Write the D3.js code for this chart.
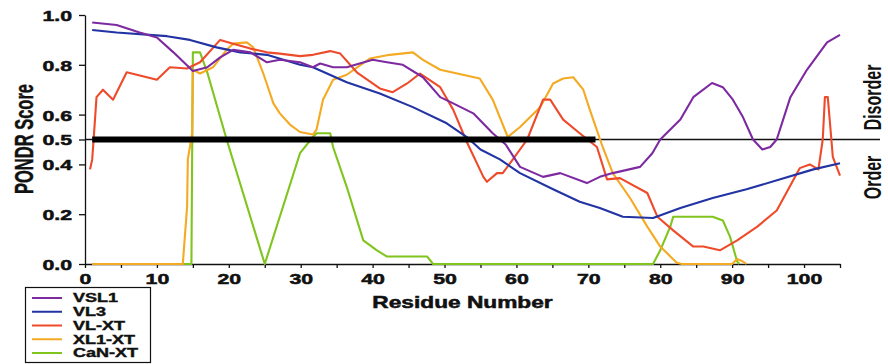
<!DOCTYPE html>
<html><head><meta charset="utf-8">
<script src="https://cdn.jsdelivr.net/npm/d3@7"></script>
<style>body{margin:0;background:#fff}svg{display:block}text{font-family:"Liberation Sans",Arial,sans-serif;font-weight:bold;fill:#111}</style>
</head><body>
<svg id="c" width="888" height="364"></svg>
<script>
const seriesNames = ["VSL1","VL3","VL-XT","XL1-XT","CaN-XT"];
const seriesColors = ["#7d2aa0","#2233a3","#ee4b2b","#f4aa22","#80c41e"];
const vsl1 = [[1,0.97],[4.4,0.96],[7.6,0.93],[10,0.91],[12.3,0.85],[15,0.775],[17,0.79],[18.8,0.83],[20.6,0.86],[23,0.85],[25.3,0.81],[27.1,0.82],[29.9,0.81],[31.7,0.79],[32.7,0.805],[34.5,0.79],[36.4,0.79],[40,0.82],[42,0.81],[44.2,0.80],[47,0.75],[49.4,0.67],[51.2,0.645],[54,0.605],[56.7,0.525],[58.5,0.48],[60.5,0.39],[63.7,0.35],[66.1,0.365],[69.8,0.325],[71.6,0.35],[73.4,0.365],[77.2,0.39],[78.9,0.445],[80,0.50],[81.4,0.54],[82.8,0.58],[84.6,0.67],[87.2,0.727],[88.7,0.71],[90.1,0.66],[91.5,0.59],[92.9,0.50],[94.2,0.46],[95.3,0.47],[96.2,0.50],[98.1,0.67],[100.4,0.78],[103.2,0.89],[105,0.92]];
const vl3 = [[1,0.94],[4.4,0.93],[11.4,0.915],[14.6,0.90],[18.3,0.87],[21.6,0.85],[25.3,0.84],[29.9,0.80],[31.7,0.79],[36.4,0.73],[41,0.685],[45.6,0.63],[50.3,0.565],[53.1,0.51],[55,0.46],[57.7,0.42],[60.5,0.365],[65.1,0.30],[68.8,0.25],[71.6,0.225],[74.8,0.19],[79,0.185],[82.8,0.225],[87.3,0.265],[92,0.30],[96.7,0.34],[101.3,0.38],[105,0.405]];
const vlxt = [[0.7,0.38],[1,0.42],[1.2,0.5],[1.6,0.67],[2.5,0.70],[3.9,0.66],[5.8,0.77],[7.2,0.76],[10,0.74],[11.8,0.79],[14.2,0.785],[16,0.81],[18.8,0.90],[20.6,0.885],[23,0.865],[25.3,0.85],[27.1,0.845],[29.9,0.835],[31.7,0.84],[34.1,0.855],[35.5,0.845],[37.8,0.77],[41,0.705],[42.8,0.69],[44.8,0.725],[46.6,0.765],[49.4,0.71],[51.2,0.62],[53.1,0.49],[55.4,0.35],[55.9,0.33],[57.3,0.365],[58.1,0.365],[59.5,0.42],[61.5,0.50],[63.7,0.66],[64.7,0.66],[66.5,0.58],[68.8,0.525],[71.2,0.47],[72.6,0.34],[74.4,0.345],[78.2,0.285],[79.6,0.19],[81.8,0.135],[84.6,0.07],[86,0.07],[88.3,0.055],[90.7,0.095],[93.5,0.15],[96.2,0.215],[98,0.31],[99.4,0.385],[100.8,0.40],[102,0.38],[102.6,0.5],[102.9,0.67],[103.3,0.67],[103.8,0.5],[104,0.43],[105,0.355]];
const xl1xt = [[1,0],[13.6,0],[14.2,0.23],[14.3,0.42],[14.9,0.525],[15,0.78],[16,0.765],[17.8,0.79],[19.7,0.86],[20.6,0.885],[22.5,0.89],[23.4,0.87],[24.8,0.765],[26.2,0.645],[27.1,0.605],[28.5,0.56],[29.9,0.53],[31.7,0.52],[32.2,0.54],[33.1,0.66],[34.5,0.74],[36.4,0.76],[39.6,0.825],[42.4,0.84],[45.6,0.85],[47,0.82],[49.4,0.78],[54.9,0.745],[56.7,0.66],[58.8,0.51],[60.5,0.55],[63.3,0.63],[65.1,0.725],[66.5,0.745],[67.9,0.75],[69.3,0.70],[70.2,0.62],[72,0.47],[73.4,0.365],[75.8,0.265],[78.2,0.15],[80,0.07],[82.3,0.005],[83,0],[90,0],[90.7,0.02],[91.5,0.01],[92,0]];
const canxt = [[1,0],[14.8,0],[15,0.85],[16,0.85],[17,0.77],[19.7,0.50],[25,0],[29.9,0.445],[31.7,0.51],[32.2,0.525],[34.1,0.525],[34.5,0.47],[36.4,0.31],[38.7,0.095],[40.6,0.055],[42,0.03],[47.6,0.03],[48.4,0],[79,0],[80,0.055],[81.4,0.15],[81.8,0.19],[87.3,0.19],[88.7,0.175],[89.7,0.11],[90.7,0.01],[91,0]];
const seriesData = [vsl1, vl3, vlxt, xl1xt, canxt];
const yTicks = [0,0.2,0.4,0.5,0.6,0.8,1.0];
const xTicks = [0,5,10,15,20,25,30,35,40,45,50,55,60,65,70,75,80,85,90,95,100,105];
const threshold = 0.5;
const barRange = [1,71];

const SX = 1.42;
const svg = d3.select("#c");
const x = d3.scaleLinear().domain([0,105]).range([85,840]);
const y = d3.scaleLinear().domain([0,1]).range([264,15]);

// axes
const ya = svg.append("g").attr("transform","translate(85,0)")
  .call(d3.axisLeft(y).tickValues(yTicks).tickFormat(d3.format(".1f")).tickSize(6).tickSizeOuter(0));
ya.selectAll("text").attr("x",0).attr("dy","0.36em").attr("transform","translate(-13,0) scale("+SX+",1)")
  .style("font-size","15px").style("font-family","Liberation Sans").style("font-weight","bold")
  .style("fill","#111").style("stroke","#111").style("stroke-width","0.5px");
const xa = svg.append("g").attr("transform","translate(0,264)")
  .call(d3.axisBottom(x).tickValues(xTicks).tickFormat(d=> d%10===0 ? d : "").tickSize(4).tickSizeOuter(0).tickPadding(5));
xa.selectAll("text").attr("transform","scale("+SX+",1)")
  .style("font-size","15px").style("font-family","Liberation Sans").style("font-weight","bold")
  .style("fill","#111").style("stroke","#111").style("stroke-width","0.5px");
svg.selectAll(".domain,.tick line").attr("stroke","#111").attr("stroke-width",1.3);

// threshold
svg.append("line").attr("x1",x(0)).attr("x2",880).attr("y1",y(threshold)).attr("y2",y(threshold))
  .attr("stroke","#111").attr("stroke-width",1.3);

// series
const line = d3.line().x(d=>x(d[0])).y(d=>y(d[1]));
[4,3,2,1,0].forEach(i=>{
  svg.append("path").datum(seriesData[i]).attr("d",line).attr("fill","none")
    .attr("stroke",seriesColors[i]).attr("stroke-width",2.1).attr("stroke-linejoin","round");
});

svg.append("line").attr("x1",x(barRange[0])).attr("x2",x(barRange[1])).attr("y1",y(threshold)).attr("y2",y(threshold))
  .attr("stroke","#000").attr("stroke-width",6);

function label(tx,ty,str,size,anchor,rot,sx,sw){
  svg.append("g").attr("transform",`translate(${tx},${ty}) scale(${sx||SX},1)`+(rot?` rotate(${rot})`:""))
    .append("text").attr("text-anchor",anchor).style("font-size",size+"px")
    .style("stroke","#111").style("stroke-width",(sw||0)+"px").text(str);
}
label(33,139,"PONDR Score",16.5,"middle",-90,1.6,0.3);
label(462.5,308,"Residue Number",16,"middle",0,SX,0.5);
label(881,97.5,"Disorder",16,"middle",-90,1.45,0);
label(881,177.5,"Order",16,"middle",-90,1.45,0);

// legend
const lg = svg.append("g");
lg.append("rect").attr("x",25.5).attr("y",287.5).attr("width",125).attr("height",75)
  .attr("fill","#fff").attr("stroke","#111").attr("stroke-width",1.2);
const ly = d3.scalePoint().domain(seriesNames).range([298,353]);
seriesNames.forEach((n,i)=>{
  lg.append("line").attr("x1",32).attr("x2",62).attr("y1",ly(n)).attr("y2",ly(n))
    .attr("stroke",seriesColors[i]).attr("stroke-width",2);
  lg.append("g").attr("transform",`translate(73,${ly(n)}) scale(1.5,1)`).append("text")
    .attr("dy","0.36em").style("font-size","12px").style("stroke","#111").style("stroke-width","0.4px").text(n);
});
</script>
</body></html>
